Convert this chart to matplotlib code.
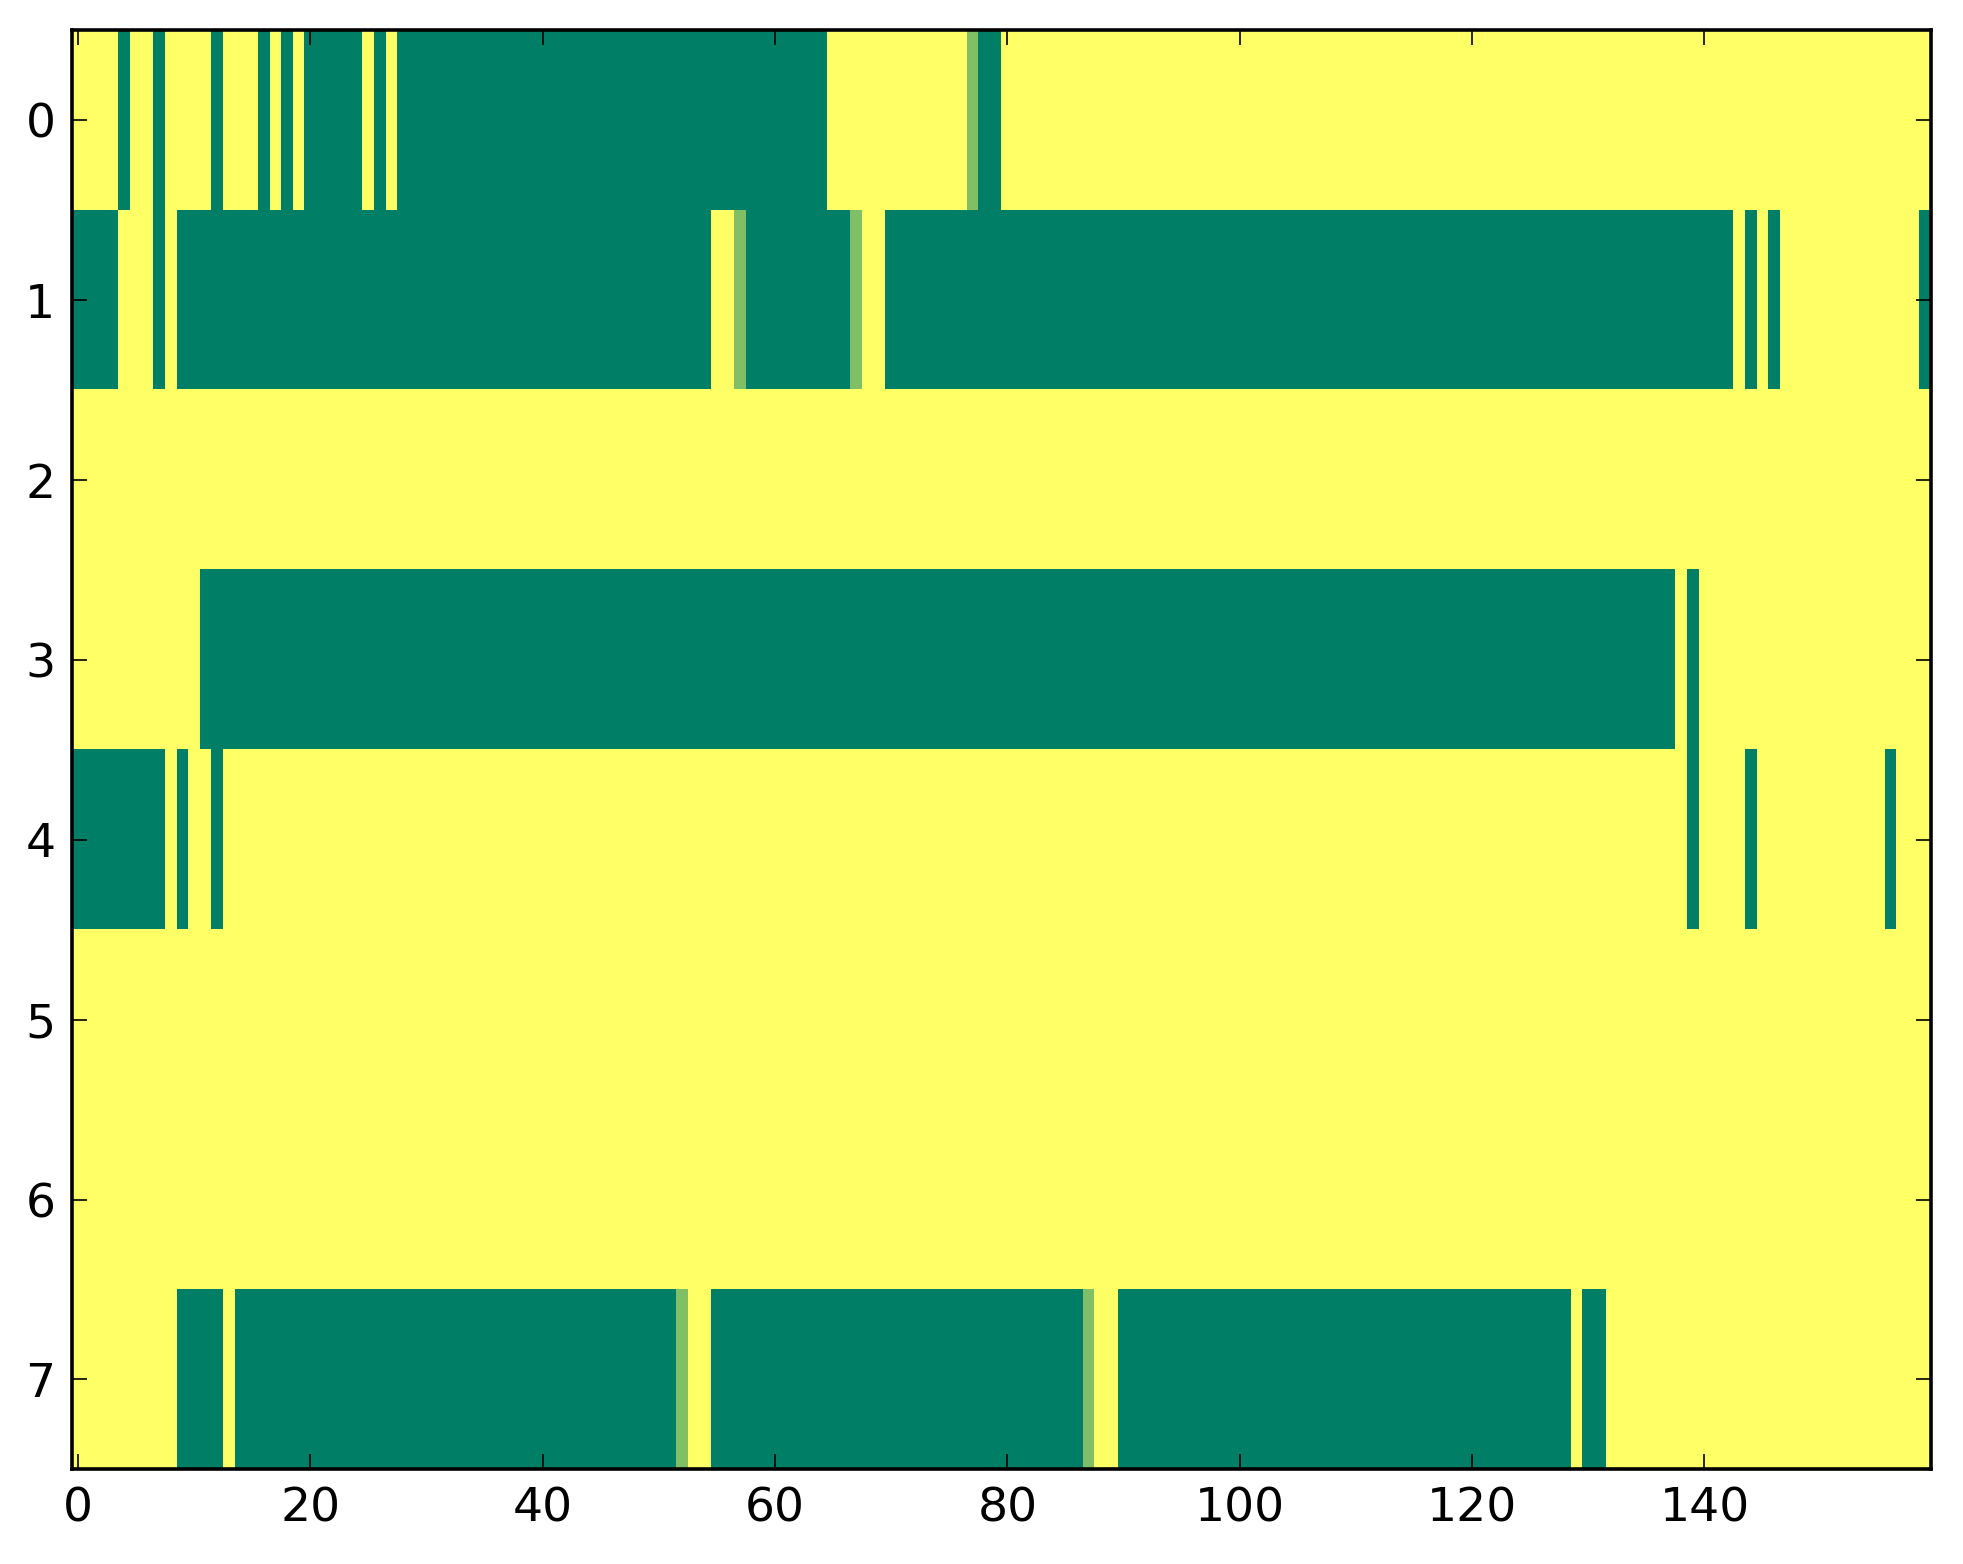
import numpy as np
import matplotlib
matplotlib.use("Agg")
import matplotlib.pyplot as plt

# each row is a list of (value, run length); 1 = yellow, 0 = green, 0.5 = in between
row0 = [(1, 4), (0, 1), (1, 2), (0, 1), (1, 4), (0, 1), (1, 3), (0, 1), (1, 1), (0, 1),
        (1, 1), (0, 5), (1, 1), (0, 1), (1, 1), (0, 37), (1, 12), (0.5, 1), (0, 2), (1, 80)]
row1 = [(0, 4), (1, 3), (0, 1), (1, 1), (0, 46), (1, 2), (0.5, 1), (0, 9), (0.5, 1),
        (1, 2), (0, 73), (1, 1), (0, 1), (1, 1), (0, 1), (1, 12), (0, 1)]
row2 = [(1, 160)]
row3 = [(1, 11), (0, 127), (1, 1), (0, 1), (1, 20)]
row4 = [(0, 8), (1, 1), (0, 1), (1, 2), (0, 1), (1, 126), (0, 1), (1, 4), (0, 1),
        (1, 11), (0, 1), (1, 3)]
row5 = [(1, 160)]
row6 = [(1, 160)]
row7 = [(1, 9), (0, 4), (1, 1), (0, 38), (0.5, 1), (1, 2), (0, 32), (0.5, 1), (1, 2),
        (0, 39), (1, 1), (0, 2), (1, 28)]

rows = [row0, row1, row2, row3, row4, row5, row6, row7]
xticks = [0, 20, 40, 60, 80, 100, 120, 140]
yticks = list(range(8))


def expand(runs):
    vals = [v for v, n in runs]
    counts = [n for v, n in runs]
    return np.repeat(vals, counts)


data = np.array([expand(r) for r in rows])

fig = plt.figure(figsize=(9.815, 7.82), dpi=200)
ax = fig.add_axes([0.0367, 0.0605, 0.9470, 0.920])
ax.imshow(data, cmap="summer", vmin=0, vmax=1, aspect="auto", interpolation="nearest")

ax.set_xticks(xticks)
ax.set_yticks(yticks)
ax.set_xlim(-0.5, data.shape[1] - 0.5)
ax.set_ylim(data.shape[0] - 0.5, -0.5)
ax.tick_params(direction="in", top=True, right=True, length=5.3, width=0.6,
               labelsize=17, pad=6)
for s in ax.spines.values():
    s.set_linewidth(1.3)

fig.savefig("out.png", dpi=200)
